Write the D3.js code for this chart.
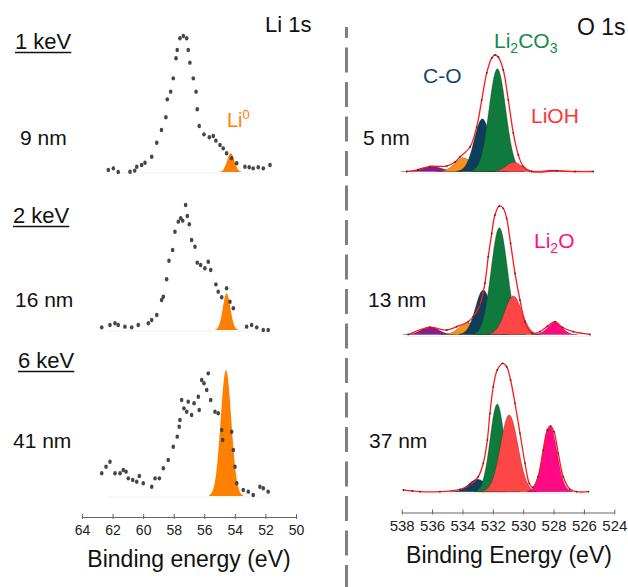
<!DOCTYPE html>
<html><head><meta charset="utf-8">
<script src="https://cdn.jsdelivr.net/npm/d3@7"></script>
<style>
html,body{margin:0;padding:0;background:#fff;}
svg{display:block;font-family:"Liberation Sans",Arial,sans-serif;}
</style>
</head><body>
<svg id="chart" width="628" height="587"></svg>
<script>
// ---------- Li 1s spectra: [binding energy (eV), normalised intensity] ----------
const li1sAt1keV = [
  [62.28,0.014],[61.95,0.026],[61.63,0.0],[60.86,0.002],[60.55,0.01],[60.42,0.038],
  [60.10,0.05],[59.88,0.066],[59.44,0.109],[59.11,0.209],[58.80,0.30],[58.51,0.391],
  [58.42,0.519],[58.20,0.574],[58.03,0.669],[57.85,0.812],[57.77,0.871],[57.59,0.955],
  [57.37,0.971],[57.15,0.955],[57.05,0.871],[56.94,0.781],[56.72,0.669],[56.54,0.574],
  [56.46,0.448],[56.33,0.329],[56.02,0.269],[55.67,0.248],[55.41,0.257],[55.24,0.224],
  [54.97,0.193],[54.76,0.169],[54.54,0.134],[54.21,0.098],[53.88,0.062],[53.34,0.038],
  [53.06,0.034],[52.80,0.026],[52.47,0.034],[52.14,0.026],[51.70,0.05]
];
const li1sAt2keV = [
  [62.71,0.019],[62.17,0.036],[61.84,0.048],[61.63,0.036],[61.19,0.024],[60.75,0.019],
  [60.32,0.036],[59.66,0.048],[59.44,0.071],[59.11,0.107],[58.79,0.214],[58.68,0.238],
  [58.46,0.362],[58.31,0.495],[58.07,0.571],[57.92,0.702],[57.70,0.774],[57.54,0.798],
  [57.41,0.781],[57.22,0.893],[57.11,0.814],[56.98,0.755],[56.83,0.643],[56.61,0.595],
  [56.46,0.481],[56.24,0.464],[55.96,0.441],[55.74,0.488],[55.58,0.429],[55.24,0.326],
  [55.09,0.274],[54.86,0.234],[54.54,0.298],[54.32,0.202],[54.10,0.155],[53.23,0.024],
  [52.90,0.036],[52.57,0.019],[52.14,0.0],[51.82,0.0]
];
const li1sAt6keV = [
  [62.71,0.162],[62.43,0.209],[62.17,0.245],[61.84,0.162],[61.51,0.162],[61.30,0.186],
  [61.12,0.174],[60.97,0.126],[60.68,0.114],[60.42,0.102],[60.25,0.143],[59.99,0.091],
  [59.44,0.066],[59.22,0.126],[58.94,0.126],[58.68,0.198],[58.36,0.257],[58.03,0.352],
  [57.77,0.424],[57.64,0.495],[57.59,0.543],[57.48,0.686],[57.33,0.626],[57.15,0.602],
  [57.05,0.674],[56.83,0.579],[56.67,0.662],[56.39,0.709],[56.33,0.614],[56.17,0.829],
  [56.02,0.805],[55.84,0.757],[55.74,0.876],[55.58,0.686],[55.30,0.602],[55.09,0.591],
  [54.86,0.471],[54.80,0.40],[54.21,0.459],[54.10,0.329],[53.99,0.209],[53.88,0.091],
  [53.45,0.043],[53.12,0.031],[52.80,0.007],[52.36,0.066],[52.14,0.055],[51.82,0.031]
];
const liSpectra = [li1sAt1keV, li1sAt2keV, li1sAt6keV];
const photonEnergies = ["1 keV", "2 keV", "6 keV"];
const liDepths = ["9 nm", "16 nm", "41 nm"];
// Li metal (Li0) component of each Li 1s spectrum
const li0Center = [54.27, 54.54, 54.58];
const li0Height = [0.134, 0.262, 0.90];
const li0Fwhm   = [0.56, 0.58, 0.82];
const liTicks = [64, 62, 60, 58, 56, 54, 52, 50];

// ---------- O 1s fits: component order = satellite, C=O, C-O, Li2CO3, LiOH, Li2O ----------
const oDepths = ["5 nm", "13 nm", "37 nm"];
const oCenter5nm  = [536.00, 533.94, 532.69, 531.70, 530.61, 528.02];
const oHeight5nm  = [0.036, 0.098, 0.376, 0.734, 0.066, 0.011];
const oFwhm5nm    = [1.50, 1.30, 1.25, 1.30, 1.20, 1.20];
const oCenter13nm = [536.14, 533.66, 532.63, 531.57, 530.65, 527.91];
const oHeight13nm = [0.056, 0.084, 0.318, 0.763, 0.275, 0.084];
const oFwhm13nm   = [1.30, 1.30, 1.20, 1.28, 1.32, 1.10];
const oCenter37nm = [536.00, 533.90, 533.02, 531.71, 530.92, 528.24];
const oHeight37nm = [0.0, 0.0, 0.089, 0.626, 0.548, 0.469];
const oFwhm37nm   = [1.0, 1.0, 1.35, 1.10, 1.35, 1.10];
// measured O 1s envelopes
const oEnvelope5nm = [
  [537.67,0.0],[536.93,0.014],[536.14,0.036],[535.04,0.039],[534.49,0.068],[534.16,0.104],
  [533.50,0.175],[533.06,0.318],[532.73,0.511],[532.40,0.704],[532.07,0.811],[531.86,0.832],
  [531.64,0.818],[531.31,0.725],[530.98,0.511],[530.65,0.275],[530.32,0.118],[529.99,0.036],
  [529.44,0.0],[527.80,0.004],[526.59,0.0],[525.39,0.0]
];
const oEnvelope13nm = [
  [537.57,0.0],[536.14,0.051],[535.04,0.032],[534.38,0.056],[533.62,0.091],[533.29,0.127],
  [532.85,0.211],[532.52,0.366],[532.30,0.556],[532.07,0.723],[531.86,0.854],[531.57,0.918],
  [531.31,0.901],[531.09,0.830],[530.83,0.651],[530.54,0.437],[530.21,0.246],[529.88,0.091],
  [529.44,0.009],[528.90,0.02],[528.40,0.06],[527.91,0.091],[527.40,0.05],[526.70,0.02],[525.60,0.0]
];
const oEnvelope37nm = [
  [537.89,0.012],[537.30,0.005],[536.80,0.0],[535.48,0.0],[534.16,0.017],[533.50,0.048],
  [532.96,0.107],[532.63,0.203],[532.36,0.369],[532.19,0.56],[531.97,0.75],[531.71,0.869],
  [531.35,0.917],[531.09,0.893],[530.83,0.798],[530.54,0.631],[530.21,0.417],[529.88,0.203],
  [529.60,0.06],[529.38,0.031],[529.01,0.107],[528.68,0.298],[528.41,0.441],[528.19,0.469],
  [527.97,0.429],[527.69,0.274],[527.36,0.107],[526.92,0.017],[526.48,0.0],[525.70,0.0]
];
const oFits = [
  {center: oCenter5nm,  height: oHeight5nm,  fwhm: oFwhm5nm,  envelope: oEnvelope5nm},
  {center: oCenter13nm, height: oHeight13nm, fwhm: oFwhm13nm, envelope: oEnvelope13nm},
  {center: oCenter37nm, height: oHeight37nm, fwhm: oFwhm37nm, envelope: oEnvelope37nm}
];
const oTicks = [538, 536, 534, 532, 530, 528, 526, 524];

// ---------- styling ----------
const componentFill = ["#8a1b8c", "#f7901e", "#0f3d5c", "#0f7a3c", "#ff4545", "#ff0a84"];
const li0Fill = "#ff8000";
const dotFill = "#464646";

const svg = d3.select("#chart");

const xLi = d3.scaleLinear().domain([64, 50]).range([82, 296]);
const xO  = d3.scaleLinear().domain([538, 524]).range([401.7, 614.3]);
const liBase = [172, 330, 496];
const oBase  = [171.5, 334.5, 491.7];
const panelHeight = 140;

function gaussian(center, height, fwhm) {
  const s = fwhm / 2.3548;
  const pts = [];
  for (let i = 0; i <= 140; i++) {
    const e = center - 3.2 * s + i * (6.4 * s / 140);
    pts.push([e, height * Math.exp(-0.5 * ((e - center) / s) ** 2)]);
  }
  return pts;
}

// faint frame remnants under each trace
function faint(x1, y1, x2, y2) {
  svg.append("line").attr("x1", x1).attr("y1", y1).attr("x2", x2).attr("y2", y2)
    .attr("stroke", "#f1f1f1").attr("stroke-width", 1);
}

// ---------- Li 1s panels ----------
liSpectra.forEach((spec, i) => {
  const y = d3.scaleLinear().domain([0, 1]).range([liBase[i], liBase[i] - panelHeight]);
  faint(xLi(62.4), y(0) + 1, xLi(51.6), y(0) + 1);
  const peak = gaussian(li0Center[i], li0Height[i], li0Fwhm[i]);
  svg.append("path")
    .attr("d", d3.area().x(d => xLi(d[0])).y0(y(0)).y1(d => y(d[1]))(peak))
    .attr("fill", li0Fill);
  svg.append("g").selectAll("ellipse").data(spec).join("ellipse")
    .attr("cx", d => xLi(d[0])).attr("cy", d => y(d[1]))
    .attr("rx", 1.8).attr("ry", 2.2).attr("fill", dotFill);
});

// ---------- O 1s panels ----------
const envLine = d3.line().curve(d3.curveCatmullRom.alpha(0.5));
oFits.forEach((fit, i) => {
  const y = d3.scaleLinear().domain([0, 1]).range([oBase[i], oBase[i] - panelHeight]);
  faint(xO(537.7), y(0) + 2, xO(525.5), y(0) + 2);
  fit.center.forEach((c, k) => {
    if (fit.height[k] <= 0) return;
    const pts = gaussian(c, fit.height[k], fit.fwhm[k]);
    svg.append("path")
      .attr("d", d3.area().x(d => xO(d[0])).y0(y(0)).y1(d => y(d[1]))(pts))
      .attr("fill", componentFill[k])
      .attr("stroke", "#1a1a1a").attr("stroke-opacity", 0.45).attr("stroke-width", 0.6);
  });
  svg.append("path")
    .attr("d", envLine.x(d => xO(d[0])).y(d => y(d[1]))(fit.envelope))
    .attr("fill", "none").attr("stroke", "#ff1a1a").attr("stroke-width", 1.3);
  svg.append("g").selectAll("circle").data(fit.envelope).join("circle")
    .attr("cx", d => xO(d[0])).attr("cy", d => y(d[1]))
    .attr("r", 0.9).attr("fill", "#333");
});

// ---------- axes ----------
function drawAxis(scale, ticks, yPos, fontSize, labelDy) {
  const g = svg.append("g").attr("transform", `translate(0,${yPos})`)
    .call(d3.axisBottom(scale).tickValues(ticks).tickSize(3).tickSizeOuter(0).tickPadding(labelDy));
  g.select(".domain").attr("stroke", "#666").attr("stroke-width", 1.2);
  g.selectAll(".tick line").attr("stroke", "#666").attr("y1", -3).attr("y2", 2);
  g.selectAll(".tick text").attr("fill", "#222").attr("font-size", fontSize)
    .attr("font-family", "Liberation Sans, Arial, sans-serif");
  return g;
}
drawAxis(xLi, liTicks, 517, 14, 5);
drawAxis(xO, oTicks, 512.5, 15, 5);

function text(x, yb, str, size, color, anchor) {
  return svg.append("text").attr("x", x).attr("y", yb).attr("font-size", size)
    .attr("fill", color || "#111").attr("text-anchor", anchor || "start").text(str);
}
text(189, 567, "Binding energy (eV)", 23, "#111", "middle");
text(509, 563, "Binding Energy (eV)", 23, "#111", "middle");

// ---------- panel labels ----------
const keVPos = [[15, 49], [13, 223], [18, 368]];
photonEnergies.forEach((s, i) => {
  const t = text(keVPos[i][0], keVPos[i][1], s, 22);
  const w = t.node().getComputedTextLength();
  svg.append("line").attr("x1", keVPos[i][0]).attr("x2", keVPos[i][0] + w)
    .attr("y1", keVPos[i][1] + 3.5).attr("y2", keVPos[i][1] + 3.5)
    .attr("stroke", "#111").attr("stroke-width", 1.6);
});
const liDepthPos = [[20, 145], [15, 307], [13, 448]];
liDepths.forEach((s, i) => text(liDepthPos[i][0], liDepthPos[i][1], s, 21));
const oDepthPos = [[363, 145], [368, 307], [369, 448]];
oDepths.forEach((s, i) => text(oDepthPos[i][0], oDepthPos[i][1], s, 21));

text(265, 32, "Li 1s", 22);
text(577, 35, "O 1s", 23);

// species labels
const li0 = text(227, 127, "Li", 20, li0Fill);
li0.append("tspan").attr("font-size", 13).attr("dy", -8).text("0");

const carb = text(494, 48, "Li", 21, "#138a4a");
carb.append("tspan").attr("font-size", 14).attr("dy", 5).text("2");
carb.append("tspan").attr("dy", -5).text("CO");
carb.append("tspan").attr("font-size", 14).attr("dy", 5).text("3");

text(423, 83, "C-O", 21, "#15466a");
text(531, 123, "LiOH", 21, "#ff3535");

const oxide = text(534, 248, "Li", 21, "#ff1089");
oxide.append("tspan").attr("font-size", 14).attr("dy", 5).text("2");
oxide.append("tspan").attr("dy", -5).text("O");

// ---------- divider ----------
svg.append("line").attr("x1", 346.5).attr("x2", 346.5).attr("y1", 27).attr("y2", 587)
  .attr("stroke", "#808080").attr("stroke-width", 3)
  .attr("stroke-dasharray", "25 9.5").attr("stroke-dashoffset", 14);
</script>
</body></html>
